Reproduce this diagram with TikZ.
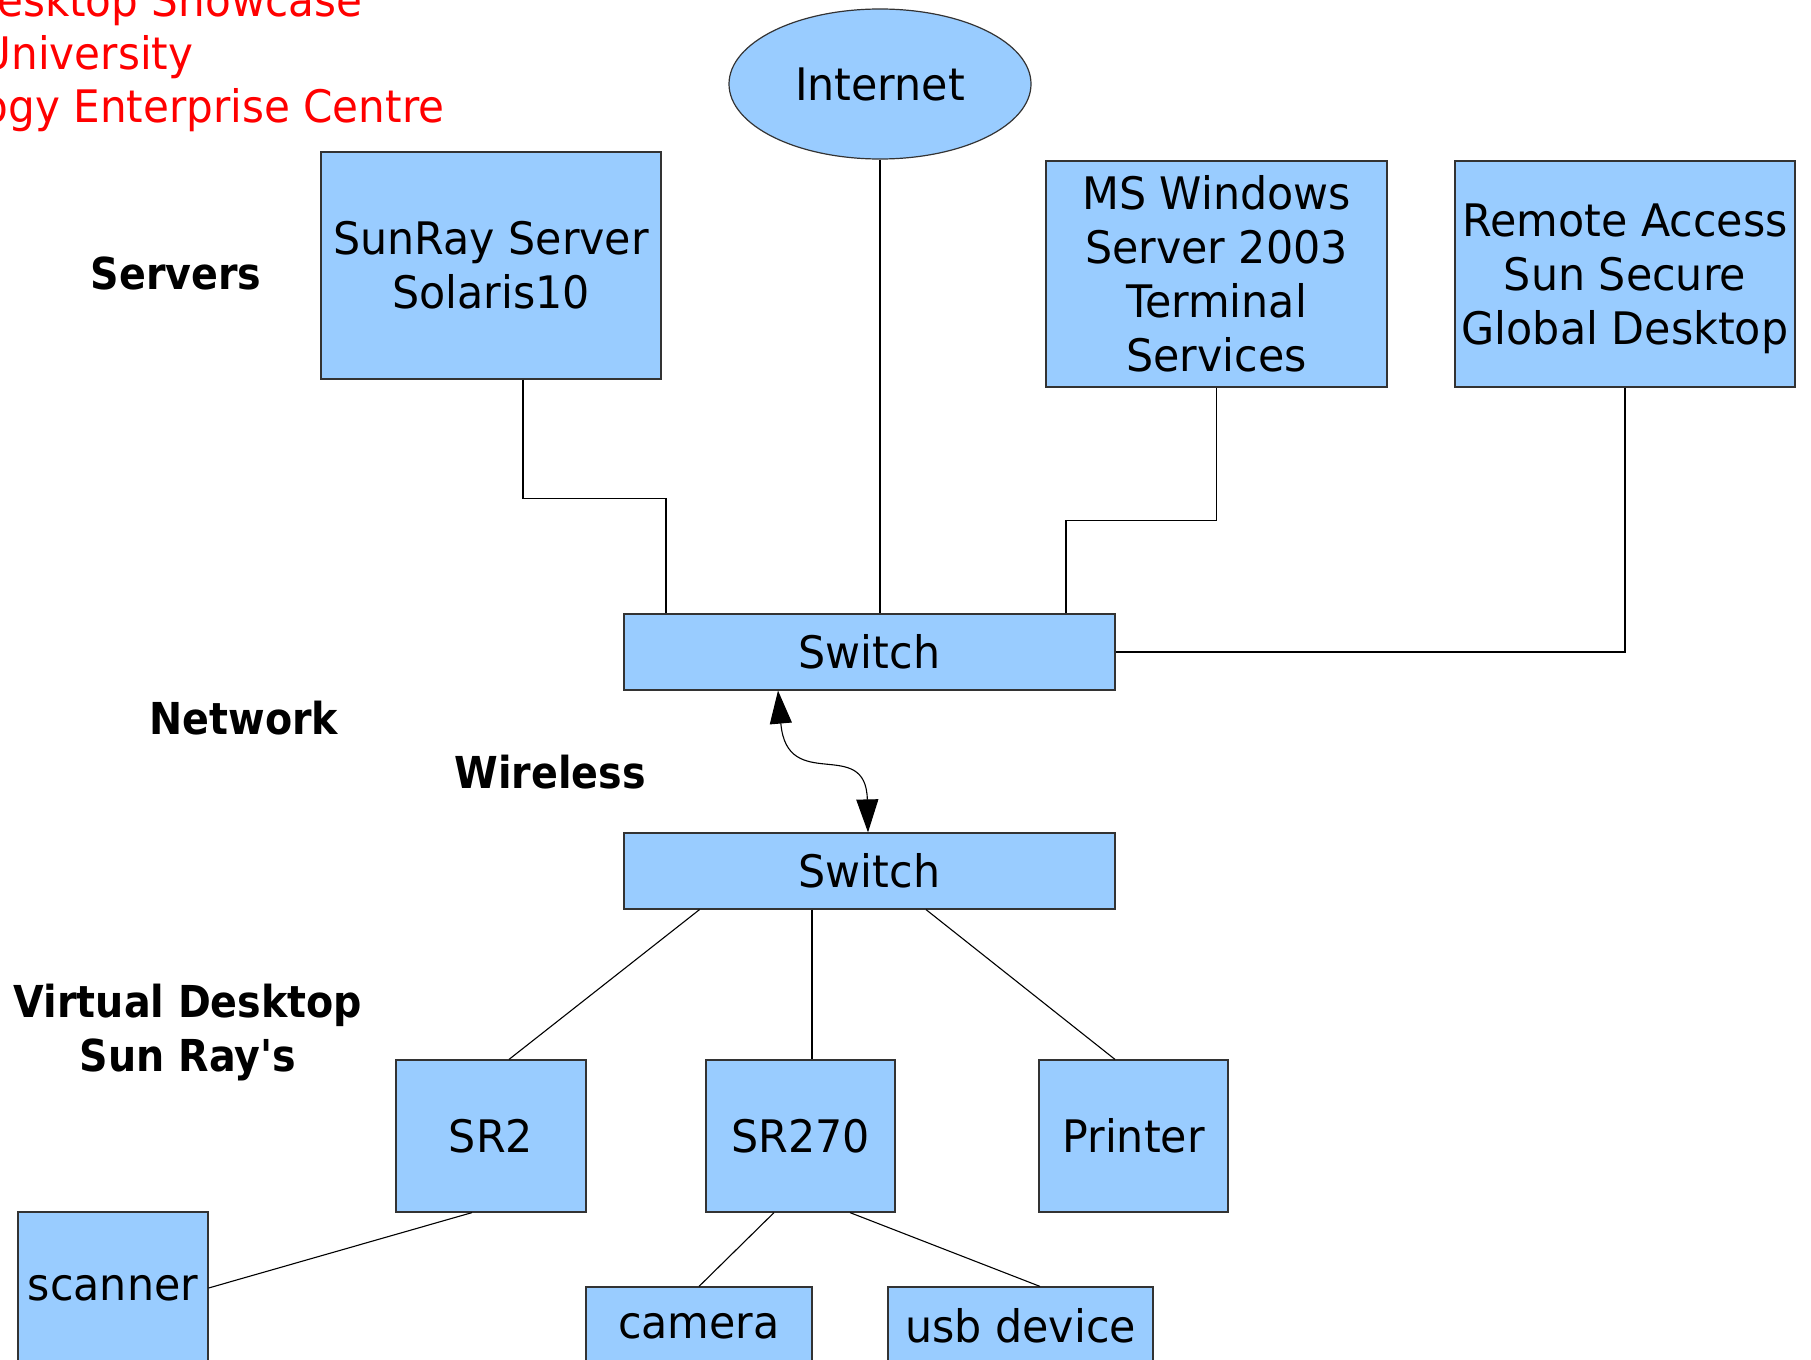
\documentclass[tikz,border=0pt]{standalone}
\usepackage{fontspec}
\setmainfont{DejaVu Sans}[FakeStretch=0.955]
\newfontfamily\boldlab{DejaVu Sans}[FakeStretch=0.9]
\newfontfamily\redfont{DejaVu Sans}[FakeStretch=0.94]
\usetikzlibrary{shapes.geometric,arrows.meta}
\definecolor{boxblue}{HTML}{99CCFF}
\definecolor{redtxt}{HTML}{FF0000}
\begin{document}
\begin{tikzpicture}[x=1pt,y=-1pt,
  txt/.style={font=\fontsize{44.8}{54}\selectfont},
  bld/.style={font=\boldlab\fontsize{44}{54}\selectfont\bfseries, align=center, inner sep=0},
  redline/.style={font=\redfont\fontsize{44.8}{54}\selectfont, text=redtxt, inner sep=0, anchor=base west},
  box/.style={txt, draw=black!80, line width=1.2pt, fill=boxblue, rectangle, align=center, inner sep=0},
  conn/.style={draw=black, line width=1.1pt},
]
\useasboundingbox (0,0) rectangle (1811,1359);
\fill[white] (0,0) rectangle (1811,1359);

% red heading (cut off at left)
\node[redline] (h1) at (-3,17) {esktop Showcase};
\node[redline] (h2) at (-19.5,70) {University};
\node[redline] (h3) at (-17.5,123) {ogy Enterprise Centre};

% labels
\node[bld] (lservers) at (176,273) {Servers};
\node[bld] (lnetwork) at (244,718) {Network};
\node[bld] (lwireless) at (550,772) {Wireless};
\node[bld] (lvirtual) at (188,1033) {Virtual Desktop\\Sun Ray's};

% nodes
\node[box, minimum width=340, minimum height=227] (sunray) at (491,265.5) {SunRay Server\\Solaris10};
\node[box, ellipse, minimum width=302, minimum height=150] (internet) at (880,84) {Internet};
\node[box, minimum width=341, minimum height=226] (mswin) at (1216.5,274) {MS Windows\\Server 2003\\Terminal\\Services};
\node[box, minimum width=340, minimum height=226] (remote) at (1625,274) {Remote Access\\Sun Secure\\Global Deskto\smash{p}};
\node[box, minimum width=491, minimum height=76] (sw1) at (869.5,652) {Switch};
\node[box, minimum width=491, minimum height=76] (sw2) at (869.5,871) {Switch};
\node[box, minimum width=190, minimum height=152] (sr2) at (491,1136) {SR2};
\node[box, minimum width=189, minimum height=152] (sr270) at (800.5,1136) {SR270};
\node[box, minimum width=189, minimum height=152] (printer) at (1133.5,1136) {Printer};
\node[box, minimum width=190, minimum height=152] (scanner) at (113,1288) {scanner};
\node[box, minimum width=226, minimum height=78] (camera) at (699,1326) {camera};
\node[box, minimum width=265, minimum height=78] (usb) at (1020.5,1326) {usb device};

% connectors, top
\draw[conn] ([xshift=32pt]sunray.south) -- ++(0,119) -| ([xshift=-203.5pt]sw1.north);
\draw[conn] (internet.south) -- (internet.south |- sw1.north);
\draw[conn] (mswin.south) -- ++(0,133) -| ([xshift=196.5pt]sw1.north);
\draw[conn] (remote.south) |- (sw1.east);

% wireless link
\draw[conn, {Triangle[length=33pt,width=22pt]}-{Triangle[length=33pt,width=22pt]}]
  ([xshift=-91.5pt]sw1.south) .. controls (787,795) and (866,735) .. ([xshift=-1.5pt]sw2.north);

% connectors, bottom
\draw[conn] ([xshift=-170pt]sw2.south) -- ([xshift=18pt]sr2.north);
\draw[conn] ([xshift=-57.5pt]sw2.south) -- ([xshift=11.5pt]sr270.north);
\draw[conn] ([xshift=56.5pt]sw2.south) -- ([xshift=-18.5pt]printer.north);
\draw[conn] ([xshift=-19pt]sr2.south) -- (scanner.east);
\draw[conn] ([xshift=-26.5pt]sr270.south) -- (camera.north);
\draw[conn] ([xshift=49.5pt]sr270.south) -- ([xshift=19.5pt]usb.north);
\end{tikzpicture}
\end{document}
